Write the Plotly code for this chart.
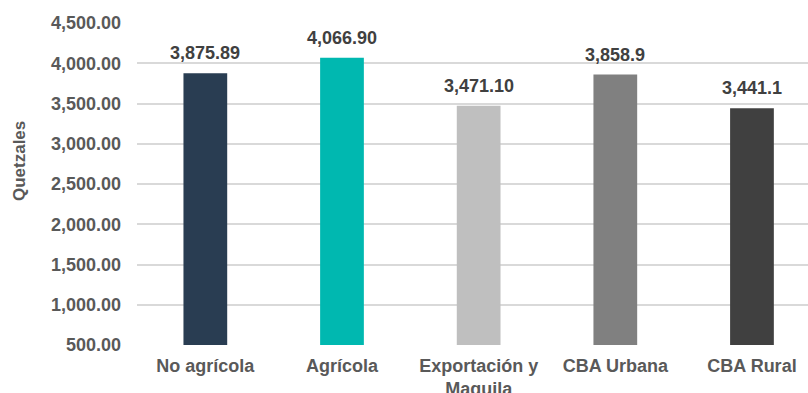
import plotly.graph_objects as go

categories = ["No agrícola", "Agrícola", "Exportación y<br>Maquila", "CBA Urbana", "CBA Rural"]
values = [3875.89, 4066.90, 3471.10, 3858.9, 3441.1]
value_labels = ["3,875.89", "4,066.90", "3,471.10", "3,858.9", "3,441.1"]
colors = ["#293d52", "#00b8b0", "#bfbfbf", "#808080", "#404040"]
y_ticks = [500, 1000, 1500, 2000, 2500, 3000, 3500, 4000, 4500]

FONT = "Liberation Sans, Arial, sans-serif"

fig = go.Figure()
fig.add_trace(go.Bar(
    x=list(range(len(categories))),
    y=values,
    marker=dict(color=colors, line=dict(width=0)),
    width=0.32,
    base=0,
    hoverinfo="skip",
))

for i, (v, lab) in enumerate(zip(values, value_labels)):
    fig.add_annotation(x=i, y=v, text="<b>%s</b>" % lab, showarrow=False,
                       yanchor="bottom", yshift=8,
                       font=dict(family=FONT, size=18, color="#404040"))

fig.add_annotation(xref="paper", yref="paper", x=-0.175, y=0.57, text="<b>Quetzales</b>",
                   textangle=-90, showarrow=False, xanchor="center", yanchor="middle",
                   font=dict(family=FONT, size=17, color="#595959"))

fig.update_layout(
    width=808, height=393,
    margin=dict(l=137, r=0, t=23, b=48, autoexpand=False),
    plot_bgcolor="white", paper_bgcolor="white",
    showlegend=False,
    xaxis=dict(
        range=[-0.5, 4.41],
        tickmode="array",
        tickvals=list(range(len(categories))),
        ticktext=["<b>%s</b>" % c for c in categories],
        tickfont=dict(family=FONT, size=18, color="#595959"),
        showgrid=False, zeroline=False, showline=False,
        ticks="", ticklabelstandoff=8, automargin=False,
    ),
    yaxis=dict(
        range=[500, 4500],
        tickmode="array",
        tickvals=y_ticks,
        ticktext=["<b>{:,.2f}</b>".format(t) for t in y_ticks],
        tickfont=dict(family=FONT, size=18, color="#595959"),
        showgrid=True, gridcolor="#d9d9d9", gridwidth=1.5,
        zeroline=False, showline=False,
        ticks="", ticklabelstandoff=15, automargin=False,
    ),
)

fig.write_html("out.html")
